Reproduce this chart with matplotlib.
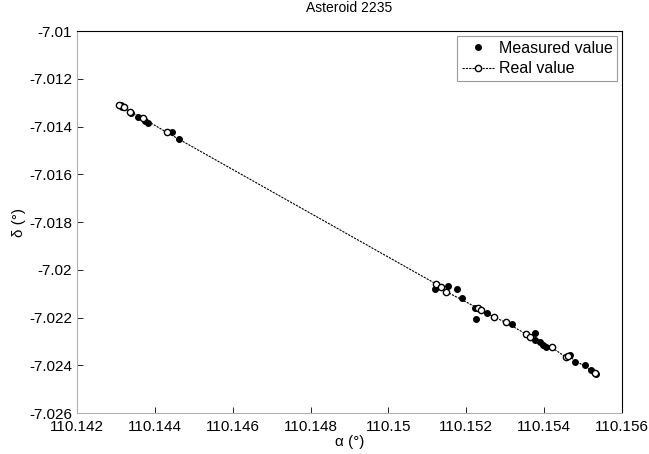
import matplotlib.pyplot as plt
from matplotlib.ticker import FuncFormatter, MultipleLocator

plt.rcParams['font.family'] = ['Liberation Sans', 'DejaVu Sans']
plt.rcParams['axes.unicode_minus'] = False

# real (computed) positions, in order along the track
real_ra = [110.14308, 110.14320, 110.14336, 110.14370, 110.14430,
           110.15123, 110.15134, 110.15149, 110.15230, 110.15239, 110.15270,
           110.15301, 110.15353, 110.15363, 110.15419, 110.15457, 110.15461,
           110.15530]
real_dec = [-7.01310, -7.01320, -7.01338, -7.01366, -7.01424,
            -7.02060, -7.02071, -7.02092, -7.02161, -7.02168, -7.02197,
            -7.02220, -7.02269, -7.02283, -7.02325, -7.02367, -7.02361,
            -7.02431]

# measured positions
meas_ra = [110.14315, 110.14312, 110.14340, 110.14357, 110.14375, 110.14383,
           110.14443, 110.14462,
           110.15119, 110.15153, 110.15175, 110.15188, 110.15222, 110.15226,
           110.15252, 110.15318, 110.15376, 110.15376, 110.15389, 110.15397,
           110.15406, 110.15466, 110.15478, 110.15504, 110.15521, 110.15534]
meas_dec = [-7.01317, -7.01312, -7.01345, -7.01359, -7.01375, -7.01387,
            -7.01424, -7.01454,
            -7.02082, -7.02068, -7.02082, -7.02119, -7.02161, -7.02207,
            -7.02180, -7.02227, -7.02264, -7.02294, -7.02301, -7.02315,
            -7.02325, -7.02357, -7.02385, -7.02399, -7.02420, -7.02436]

fig = plt.figure(figsize=(6.49, 4.54), dpi=100)
ax = fig.add_axes([0.1186, 0.0903, 0.8398, 0.8414])

ax.plot(meas_ra, meas_dec, 'o', color='black', markersize=4,
        label='Measured value', zorder=2)
ax.plot(real_ra, real_dec, color='black', linestyle=(0, (2, 1)), linewidth=0.8,
        marker='o', markersize=4.5, markerfacecolor='white', markeredgewidth=1.0,
        label='Real value', zorder=3)

ax.set_xlim(110.142, 110.156)
ax.set_ylim(-7.026, -7.01)
ax.xaxis.set_major_locator(MultipleLocator(0.002))
ax.yaxis.set_major_locator(MultipleLocator(0.002))
fmt = FuncFormatter(lambda v, p: '%g' % round(v, 6))
ax.xaxis.set_major_formatter(fmt)
ax.yaxis.set_major_formatter(fmt)
ax.tick_params(direction='in', length=4, labelsize=11, width=0.6)
ax.tick_params(axis='x', pad=5)

ax.spines['left'].set_color('#b0b0b0')
ax.spines['bottom'].set_color('#b0b0b0')
for s in ax.spines.values():
    s.set_linewidth(0.8)

ax.set_title('Asteroid 2235', fontsize=10, pad=14)
ax.set_xlabel('α (°)', fontsize=11, labelpad=1)
ax.set_ylabel('δ (°)', fontsize=11, labelpad=2)

leg = ax.legend(loc='upper right', fontsize=11.5, handlelength=2.0,
                borderaxespad=0.3, fancybox=False, edgecolor='#808080',
                handletextpad=0.3, borderpad=0.3, labelspacing=0.35)
leg.get_frame().set_linewidth(0.8)

fig.savefig('out.png', dpi=100)
